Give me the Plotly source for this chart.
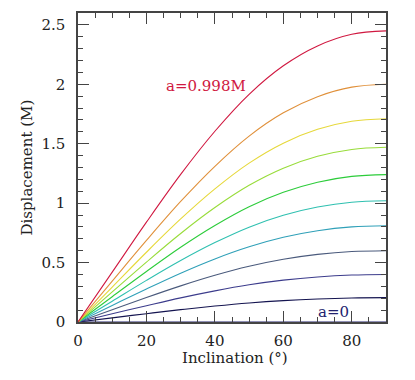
import plotly.graph_objects as go

inclination = [0, 10, 20, 30, 40, 50, 60, 70, 80, 90]

spin_labels = ["a=0", "a=0.1", "a=0.2", "a=0.3", "a=0.4", "a=0.5",
               "a=0.6", "a=0.7", "a=0.8", "a=0.9", "a=0.998"]

disp_a0 = [0, 0, 0, 0, 0, 0, 0, 0, 0, 0]
disp_a1 = [0, 0.035, 0.070, 0.104, 0.134, 0.160, 0.180, 0.194, 0.2025, 0.205]
disp_a2 = [0, 0.069, 0.137, 0.203, 0.262, 0.313, 0.352, 0.379, 0.395, 0.40]
disp_a3 = [0, 0.103, 0.206, 0.304, 0.393, 0.469, 0.528, 0.569, 0.593, 0.60]
disp_a4 = [0, 0.139, 0.278, 0.411, 0.531, 0.633, 0.713, 0.768, 0.800, 0.81]
disp_a5 = [0, 0.175, 0.350, 0.517, 0.668, 0.798, 0.898, 0.967, 1.008, 1.02]
disp_a6 = [0, 0.213, 0.425, 0.629, 0.812, 0.970, 1.091, 1.176, 1.225, 1.24]
disp_a7 = [0, 0.253, 0.504, 0.745, 0.963, 1.150, 1.294, 1.394, 1.452, 1.47]
disp_a8 = [0, 0.294, 0.587, 0.867, 1.120, 1.337, 1.505, 1.621, 1.689, 1.71]
disp_a9 = [0, 0.344, 0.686, 1.014, 1.310, 1.564, 1.760, 1.896, 1.976, 2.00]
disp_a998 = [0, 0.420, 0.840, 1.242, 1.605, 1.916, 2.156, 2.323, 2.421, 2.45]

series = [disp_a0, disp_a1, disp_a2, disp_a3, disp_a4, disp_a5,
          disp_a6, disp_a7, disp_a8, disp_a9, disp_a998]
colors = ["#22226e", "#141450", "#3c3c8c", "#4a5a7c", "#2fa0b8", "#2fc0b0",
          "#2ccc3a", "#98dc3a", "#e6d83a", "#e0903a", "#d01840"]

fig = go.Figure()
for name, ys, c in zip(spin_labels, series, colors):
    fig.add_trace(go.Scatter(x=inclination, y=ys, mode="lines", name=name,
                             line=dict(color=c, width=1.1, shape="spline"),
                             showlegend=False))

font_family = "DejaVu Serif, Liberation Serif, serif"
fig.add_annotation(x=37.5, y=1.99, text="a=0.998M", showarrow=False,
                   font=dict(color="#d01840", size=15, family=font_family))
fig.add_annotation(x=74.8, y=0.085, text="a=0", showarrow=False,
                   font=dict(color="#22226e", size=15, family=font_family))
fig.add_annotation(xref="paper", yref="paper", x=0.5, y=0, xshift=3, yshift=-36,
                   yanchor="middle", text="Inclination (°)", showarrow=False,
                   font=dict(color="#222", size=15, family=font_family))
fig.add_annotation(xref="paper", yref="paper", x=0, y=0.5, xshift=-52,
                   xanchor="center", yanchor="middle", textangle=-90,
                   text="Displacement (M)", showarrow=False,
                   font=dict(color="#222", size=15, family=font_family))

axis_common = dict(showgrid=False, zeroline=False, showline=True, automargin=False,
                   linecolor="#444", linewidth=1.5, mirror="allticks",
                   ticks="inside", ticklen=11, tickwidth=1.2, tickcolor="#444",
                   tickfont=dict(size=15, family=font_family, color="#222"))

fig.update_xaxes(range=[0, 90], tickvals=[0, 20, 40, 60, 80],
                 minor=dict(dtick=5, ticks="inside", ticklen=5, tickcolor="#444", tickwidth=1),
                 ticklabelstandoff=4, **axis_common)
fig.update_yaxes(range=[0, 2.6], tickvals=[0, 0.5, 1, 1.5, 2, 2.5],
                 ticktext=["0", "0.5", "1", "1.5", "2", "2.5"],
                 minor=dict(dtick=0.1, ticks="inside", ticklen=5, tickcolor="#444", tickwidth=1),
                 ticklabelstandoff=8, **axis_common)

fig.update_layout(width=415, height=380,
                  margin=dict(l=70, r=37, t=5, b=66),
                  paper_bgcolor="white", plot_bgcolor="white")

fig.write_html("out.html")
